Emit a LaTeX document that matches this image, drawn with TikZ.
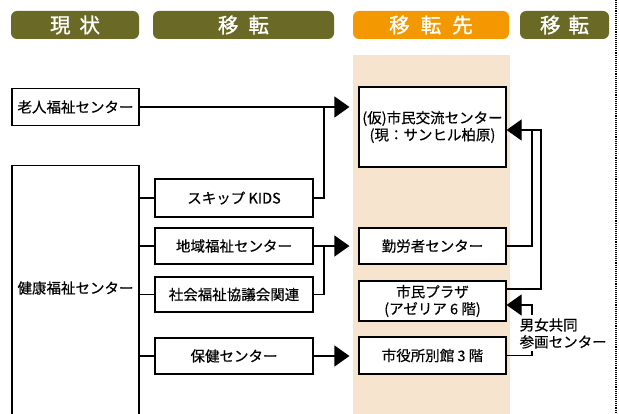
\documentclass[tikz,border=0pt]{standalone}
\usepackage{fontspec}
\newfontfamily\jp{Noto Sans CJK JP}
\newfontfamily\jpm[FakeBold=0.35]{Noto Sans CJK JP}
\newfontfamily\jph[FakeBold=1.2]{Noto Sans CJK JP}
\usetikzlibrary{arrows.meta}
\definecolor{olive}{RGB}{106,106,38}
\definecolor{orng}{RGB}{243,152,0}
\definecolor{beige}{RGB}{246,228,206}
\begin{document}
\begin{tikzpicture}[x=1pt,y=-1pt,
  hdr/.style={rounded corners=6pt, fill=olive, text=white, inner sep=0pt,
    minimum height=28pt, font=\jph\fontsize{20.5}{24}\selectfont},
  box/.style={draw, line width=1.2pt, fill=white, inner sep=0pt, align=center,
    font=\jpm\fontsize{14.5}{17}\selectfont},
  txt/.style={inner sep=0pt, font=\jpm\fontsize{14.5}{17}\selectfont},
  conn/.style={line width=1.2pt},
  arr/.style={conn, -{Triangle[length=15pt,width=21pt]}}]
\useasboundingbox (0,0) rectangle (619,414);
% headers
\node[hdr, minimum width=128pt] (h1) at (75,25) {現\hspace{9pt}状};
\node[hdr, minimum width=181pt] (h2) at (243.5,25) {移\hspace{10pt}転};
\node[hdr, minimum width=156pt, fill=orng] (h3) at (431,25) {移\hspace{11pt}転\hspace{11pt}先};
\node[hdr, minimum width=89pt] (h4) at (564.5,25) {移\hspace{8pt}転};
% destination column
\fill[beige] (353,55) rectangle (510,420);
% dotted separator
\draw[line width=1.1pt, dash pattern=on 1.1pt off 1pt] (616,0) -- (616,414);
% left column
\node[box, minimum width=127pt, minimum height=37pt] (roujin) at (75.5,107) {老人福祉センター};
\node[box, minimum width=127pt, minimum height=300pt, anchor=north] (kenko) at (75.5,165) {};
\node[txt] (kenkotxt) at (75.5,288) {健康福祉センター};
% middle column
\node[box, minimum width=158pt, minimum height=38pt] (skip) at (234,198) {スキップ KIDS};
\node[box, minimum width=158pt, minimum height=36pt] (chiiki) at (234,246) {地域福祉センター};
\node[box, minimum width=158pt, minimum height=35pt] (shakai) at (234,294.5) {社会福祉協議会関連};
\node[box, minimum width=158pt, minimum height=36pt] (hoken) at (234,356) {保健センター};
% destination column boxes
\node[box, minimum width=147pt, minimum height=80pt] (kouryu) at (432.5,127) {(仮)市民交流センター\\(現：サンヒル柏原)};
\node[box, minimum width=147pt, minimum height=36pt] (kinrou) at (432.5,246) {勤労者センター};
\node[box, minimum width=147pt, minimum height=40pt] (plaza) at (432.5,301) {市民プラザ\\(アゼリア 6 階)};
\node[box, minimum width=147pt, minimum height=37pt] (shiyaku) at (432.5,355.5) {市役所別館 3 階};
% label
\node[txt, align=left, anchor=north west] (danjo) at (519.5,318) {男女共同\\参画センター};
% junctions
\coordinate (j1) at (324,107);
\coordinate (j2) at (324,246);
\coordinate (r1) at (532,130);
\coordinate (r2) at (541,130);
\coordinate (d1) at (532,315);
\coordinate (d2) at (532,351);
% branches from kenko
\draw[conn] (kenko.east |- skip.west) -- (skip.west);
\draw[conn] (kenko.east |- chiiki.west) -- (chiiki.west);
\draw[conn] (kenko.east |- shakai.west) -- (shakai.west);
\draw[conn] (kenko.east |- hoken.west) -- (hoken.west);
% to kouryu
\draw[arr, shorten >=9pt] (roujin.east) -- (roujin.east -| kouryu.west);
\draw[conn] (skip.east) -| (j1);
% to kinrou
\draw[conn] (chiiki.east) -- (j2);
\draw[conn] (shakai.east) -| (j2);
\draw[arr, shorten >=9pt] (j2) -- (kinrou.west);
% to shiyaku
\draw[arr, shorten >=9pt] (hoken.east) -- (hoken.east -| shiyaku.west);
% right side moves
\draw[conn] (kinrou.east) -| (r1);
\draw[arr] ([yshift=12pt]plaza.east) -| (r2) -- ([yshift=-3pt]kouryu.east);
\draw[arr] (d1) |- ([yshift=-4pt]plaza.east);
\draw[conn] (shiyaku.east) -| (d2);
\end{tikzpicture}
\end{document}
